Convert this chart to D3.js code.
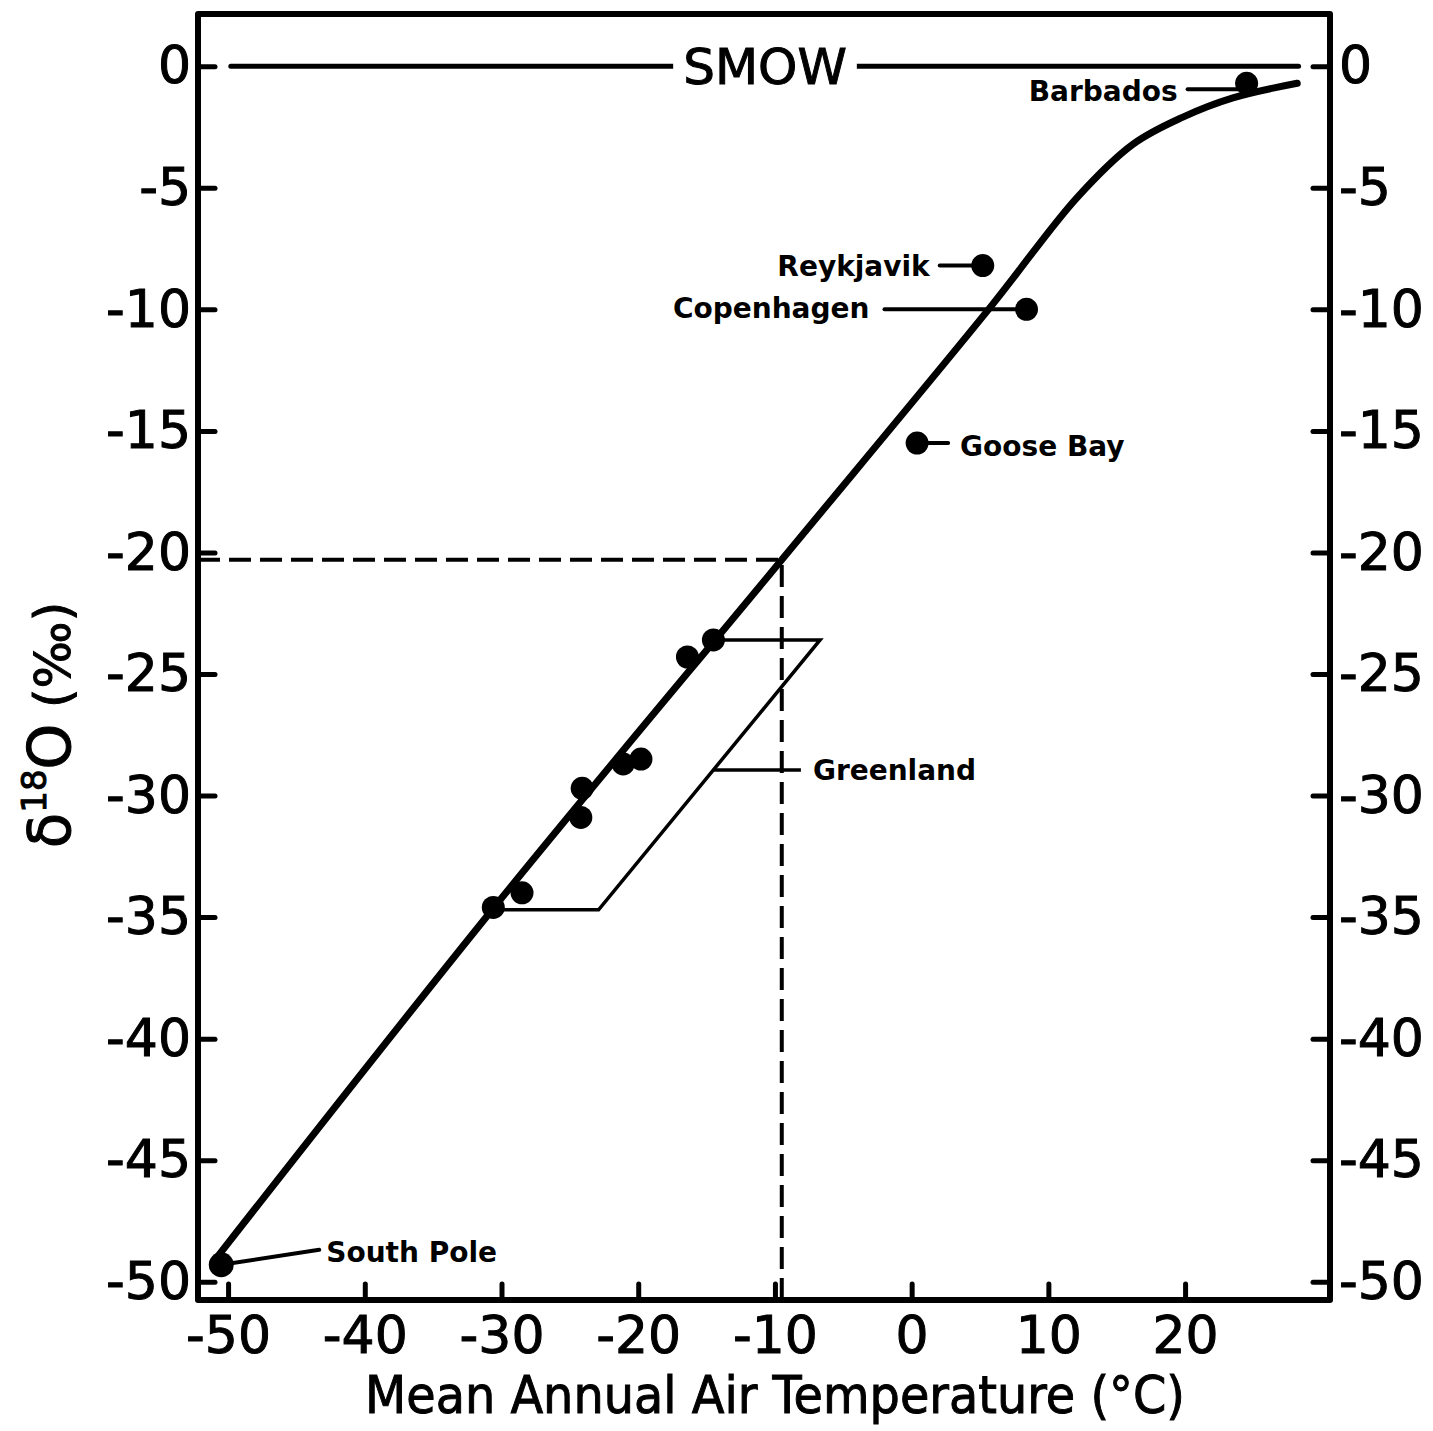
<!DOCTYPE html>
<html>
<head>
<meta charset="utf-8">
<script src="https://cdn.jsdelivr.net/npm/d3@7"></script>
<style>
  body { margin: 0; background: #fff; }
  svg text { font-family: "DejaVu Sans", sans-serif; fill: #000; }
</style>
</head>
<body>
<svg id="drawing_region"></svg>
<script>
// axis ticks
const xTicks = [-50, -40, -30, -20, -10, 0, 10, 20];
const yTicks = [0, -5, -10, -15, -20, -25, -30, -35, -40, -45, -50];

// fitted curve
const curveTemp  = [-51.1, -30.4, -9.5, 5.7, 12.1, 16.2, 19.8, 23.5, 28.2];
const curveDelta = [-49.2, -34.5, -20.3, -9.95, -5.4, -3.2, -2.1, -1.3, -0.7];

// named stations
const stationNames = ["South Pole", "Goose Bay", "Copenhagen", "Reykjavik", "Barbados"];
const stationTemp  = [-50.5, 0.4, 8.4, 5.2, 24.5];
const stationDelta = [-49.3, -15.5, -10.0, -8.2, -0.7];

// Greenland stations
const greenlandTemp  = [-30.6, -28.5, -24.2, -24.1, -21.1, -19.8, -16.4, -14.5];
const greenlandDelta = [-34.6, -34.0, -30.9, -29.7, -28.7, -28.5, -24.3, -23.6];

// Greenland box
const boxTemp  = [-14.5, -6.7, -22.9, -30.6];
const boxDelta = [-23.6, -23.6, -34.7, -34.7];
const greenlandLabelDelta = -28.95;

// SMOW line and dashed reference
const smowDelta = 0;
const smowTemp = [-49.8, 28.3];
const refTemp = -9.5;
const refDelta = -20.3;

const config = {
    width: 1433,
    height: 1431,
    margin: {top: 14, right: 103, bottom: 131, left: 198}
};

const svg = d3.select('#drawing_region')
    .attr('width', config.width)
    .attr('height', config.height);

const innerW = config.width - config.margin.left - config.margin.right;
const innerH = config.height - config.margin.top - config.margin.bottom;

const chart = svg.append('g')
    .attr('transform', `translate(${config.margin.left}, ${config.margin.top})`);

const xscale = d3.scaleLinear().domain([-52.2, 30.6]).range([0, innerW]);
const yscale = d3.scaleLinear().domain([2.15, -50.75]).range([0, innerH]);

// axes (ticks point inward)
const fmt = d => String(d);
const yAxisL = chart.append('g').call(d3.axisLeft(yscale).tickValues(yTicks).tickSize(-17).tickPadding(7).tickFormat(fmt));
const yAxisR = chart.append('g').attr('transform', `translate(${innerW},0)`)
    .call(d3.axisRight(yscale).tickValues(yTicks).tickSize(-17).tickPadding(9).tickFormat(fmt));
const xAxis = chart.append('g').attr('transform', `translate(0,${innerH})`)
    .call(d3.axisBottom(xscale).tickValues(xTicks).tickSize(-16).tickPadding(16).tickFormat(fmt));

[yAxisL, yAxisR, xAxis].forEach(g => {
    g.select('.domain').remove();
    g.attr('font-family', null).attr('font-size', null);
    g.selectAll('line').attr('stroke', '#000').attr('stroke-width', 5).attr('stroke-linecap', 'round');
    g.selectAll('text').attr('font-size', 52).attr('stroke', '#000').attr('stroke-width', 1);
});

// frame
chart.append('rect')
    .attr('x', 0).attr('y', 0).attr('width', innerW).attr('height', innerH)
    .attr('fill', 'none').attr('stroke', '#000').attr('stroke-width', 6)
    .attr('stroke-linejoin', 'round');

// SMOW line
chart.append('line')
    .attr('x1', xscale(smowTemp[0])).attr('x2', xscale(smowTemp[1]))
    .attr('y1', yscale(smowDelta)).attr('y2', yscale(smowDelta))
    .attr('stroke', '#000').attr('stroke-width', 5).attr('stroke-linecap', 'round');
const smowBg = chart.append('rect').attr('fill', '#fff');
const smowText = chart.append('text')
    .attr('x', 567).attr('y', yscale(smowDelta))
    .attr('dy', '0.36em')
    .attr('text-anchor', 'middle')
    .attr('font-size', 50)
    .attr('stroke', '#000').attr('stroke-width', 1)
    .text('SMOW');
const bb = smowText.node().getBBox();
smowBg.attr('x', bb.x - 10).attr('y', bb.y).attr('width', bb.width + 20).attr('height', bb.height);

// dashed reference lines
chart.append('path')
    .attr('d', `M${xscale.range()[0]},${yscale(refDelta)}H${xscale(refTemp)}V${innerH}`)
    .attr('fill', 'none').attr('stroke', '#000').attr('stroke-width', 4)
    .attr('stroke-dasharray', '22,9');

// Greenland box
const boxPts = boxTemp.map((t, i) => [xscale(t), yscale(boxDelta[i])]);
chart.append('path')
    .attr('d', d3.line()(boxPts))
    .attr('fill', 'none').attr('stroke', '#000').attr('stroke-width', 3.5);

// fitted curve
const curvePts = curveTemp.map((t, i) => [t, curveDelta[i]]);
chart.append('path')
    .datum(curvePts)
    .attr('d', d3.line().x(d => xscale(d[0])).y(d => yscale(d[1])).curve(d3.curveCatmullRom.alpha(0.5)))
    .attr('fill', 'none').attr('stroke', '#000').attr('stroke-width', 7)
    .attr('stroke-linecap', 'round');

// Greenland points
chart.selectAll('.gl').data(greenlandTemp.map((t, i) => [t, greenlandDelta[i]]))
    .enter().append('circle')
    .attr('cx', d => xscale(d[0])).attr('cy', d => yscale(d[1]))
    .attr('r', 11.5).attr('fill', '#000');

// Greenland label
const glEdge = -22.9 + (greenlandLabelDelta + 34.7) / (34.7 - 23.6) * (-6.7 + 22.9);
chart.append('line')
    .attr('x1', xscale(glEdge)).attr('x2', xscale(-8.1))
    .attr('y1', yscale(greenlandLabelDelta)).attr('y2', yscale(greenlandLabelDelta))
    .attr('stroke', '#000').attr('stroke-width', 3.5);
chart.append('text')
    .attr('x', xscale(-8.1) + 12).attr('y', yscale(greenlandLabelDelta))
    .attr('dy', '0.36em').attr('font-size', 28).attr('font-weight', 'bold')
    .text('Greenland');

// station labels: leader end and text anchor offsets in pixels
const labelLayout = {
    'South Pole': {lx: 98, ly: -15, tx: 105, ty: -3, anchor: 'start'},
    'Goose Bay':  {lx: 31, ly: 0, tx: 43, ty: 13, anchor: 'start'},
    'Copenhagen': {lx: -142, ly: 0, tx: -157, ty: 9, anchor: 'end'},
    'Reykjavik':  {lx: -43, ly: 0, tx: -53, ty: 10, anchor: 'end'},
    'Barbados':   {lx: -59, ly: 6, tx: -69, ty: 18, anchor: 'end'}
};

stationNames.forEach((name, i) => {
    const cx = xscale(stationTemp[i]);
    const cy = yscale(stationDelta[i]);
    const L = labelLayout[name];
    chart.append('line')
        .attr('x1', cx).attr('y1', name === 'Barbados' ? cy + 6 : cy)
        .attr('x2', cx + L.lx).attr('y2', cy + L.ly)
        .attr('stroke', '#000').attr('stroke-width', 4).attr('stroke-linecap', 'round');
    chart.append('circle')
        .attr('cx', cx).attr('cy', cy).attr('r', name === 'South Pole' ? 12.5 : 11.5)
        .attr('fill', '#000');
    chart.append('text')
        .attr('x', cx + L.tx).attr('y', cy + L.ty)
        .attr('text-anchor', L.anchor)
        .attr('font-size', 28).attr('font-weight', 'bold')
        .text(name);
});

// axis titles
svg.append('text')
    .attr('x', 775).attr('y', 1413)
    .attr('text-anchor', 'middle')
    .attr('font-size', 52)
    .attr('stroke', '#000').attr('stroke-width', 1)
    .attr('textLength', 820).attr('lengthAdjust', 'spacingAndGlyphs')
    .text('Mean Annual Air Temperature (°C)');

const ylab = svg.append('text')
    .attr('transform', 'translate(70,725) rotate(-90)')
    .attr('text-anchor', 'middle')
    .attr('font-size', 58)
    .attr('stroke', '#000').attr('stroke-width', 1);
ylab.append('tspan').text('δ');
ylab.append('tspan').attr('font-size', 34).attr('dy', -24).text('18');
ylab.append('tspan').attr('dy', 24).text('O');
ylab.append('tspan').attr('font-size', 50).text(' (‰)');
</script>
</body>
</html>
